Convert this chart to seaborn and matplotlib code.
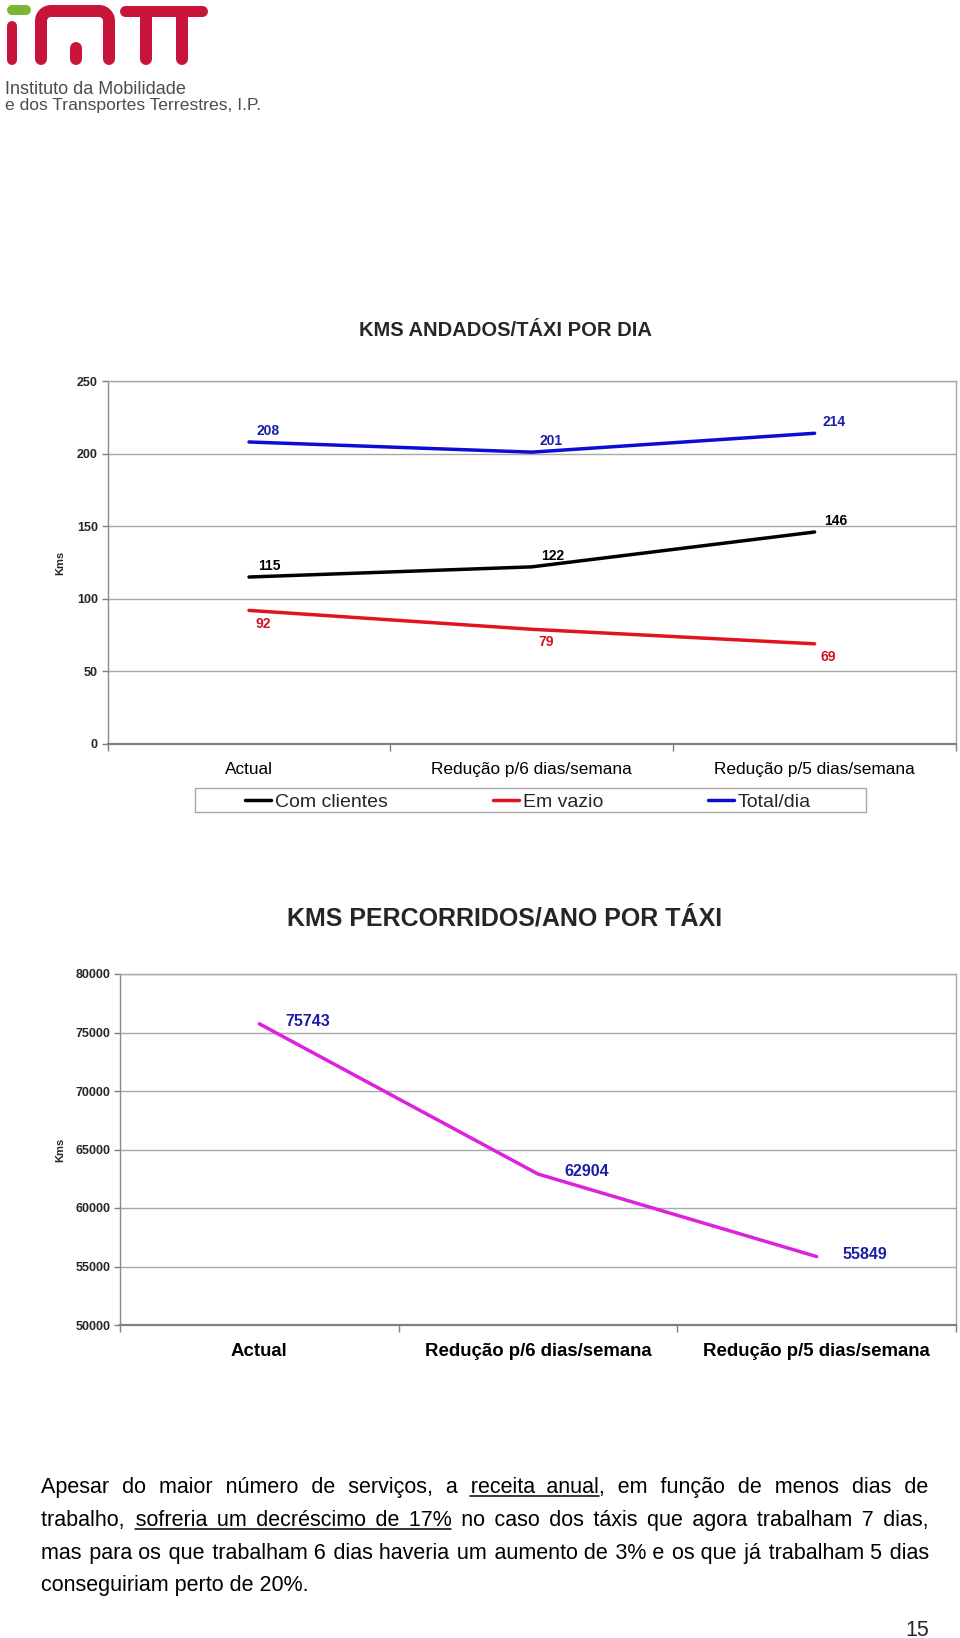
import numpy as np
import pandas as pd
import matplotlib
matplotlib.use("Agg")
import matplotlib.pyplot as plt
import seaborn as sns
from matplotlib.patches import Rectangle

# ---------------- data ----------------
categories = ["Actual", "Redução p/6 dias/semana", "Redução p/5 dias/semana"]
series_names = ["Com clientes", "Em vazio", "Total/dia"]
com_clientes = [115, 122, 146]
em_vazio = [92, 79, 69]
total_dia = [208, 201, 214]
kms_ano = [75743, 62904, 55849]
y1_ticks = [0, 50, 100, 150, 200, 250]
y2_ticks = [50000, 55000, 60000, 65000, 70000, 75000, 80000]
title1 = "KMS ANDADOS/TÁXI POR DIA"
title2 = "KMS PERCORRIDOS/ANO POR TÁXI"
ylabel = "Kms"
paragraph_lines = [
    "Apesar do maior número de serviços, a receita anual, em função de menos dias de",
    "trabalho, sofreria um decréscimo de 17% no caso dos táxis que agora trabalham 7 dias,",
    "mas para os que trabalham 6 dias haveria um aumento de 3% e os que já trabalham 5 dias",
    "conseguiriam perto de 20%.",
]
# (line, first word, last word, trailing chars not underlined)
underlines = [(0, 7, 8, ","), (1, 1, 5, "")]
page_number = "15"
logo_line1 = "Instituto da Mobilidade"
logo_line2 = "e dos Transportes Terrestres, I.P."

palette1 = {"Com clientes": "#000000", "Em vazio": "#e0141e", "Total/dia": "#0c0cd2"}
label_colors = {"Com clientes": "#000000", "Em vazio": "#d0141e", "Total/dia": "#1c1ca8"}

sns.set_style("white")
plt.rcParams["font.family"] = ["Liberation Sans", "DejaVu Sans"]

W, H = 960, 1638
fig = plt.figure(figsize=(W / 100, H / 100), dpi=100)
fig.patch.set_facecolor("white")

# overlay axes in pixel coordinates (y downward)
bg = fig.add_axes([0, 0, 1, 1], zorder=0)
bg.set_xlim(0, W)
bg.set_ylim(H, 0)
bg.axis("off")

# ---------------- logo ----------------
red = "#c8133a"
green = "#7cb531"
px = 0.72  # points per pixel
bg.plot([12, 26], [10, 10], color=green, lw=10 * px, solid_capstyle="round")
bg.plot([12, 12], [26, 60], color=red, lw=10 * px, solid_capstyle="round")
t1 = np.linspace(np.pi, np.pi / 2, 20)
t2 = np.linspace(np.pi / 2, 0, 20)
arch_x = np.concatenate([[41], 51 + 10 * np.cos(t1), 99 + 10 * np.cos(t2), [109]])
arch_y = np.concatenate([[59], 21 - 10 * np.sin(t1), 21 - 10 * np.sin(t2), [59]])
bg.plot(arch_x, arch_y, color=red, lw=12 * px, solid_capstyle="round", solid_joinstyle="round")
bg.plot([76, 76], [48, 59], color=red, lw=12 * px, solid_capstyle="round")
bg.plot([125, 202], [10.5, 10.5], color=red, lw=11 * px, solid_capstyle="round")
bg.plot([146, 146], [14, 59], color=red, lw=12 * px, solid_capstyle="round")
bg.plot([182, 182], [14, 59], color=red, lw=12 * px, solid_capstyle="round")
bg.text(5, 94, logo_line1, fontsize=13, color="#4d4d4d", va="baseline", ha="left")
bg.text(5, 110, logo_line2, fontsize=12.6, color="#4d4d4d", va="baseline", ha="left")

# ---------------- chart 1 ----------------
ax1 = fig.add_axes([107.6 / W, 1 - 744 / H, (956 - 107.6) / W, (744 - 381) / H], zorder=1)
df1 = pd.DataFrame({
    "categoria": categories * 3,
    "valor": com_clientes + em_vazio + total_dia,
    "serie": [s for s in series_names for _ in categories],
})
sns.lineplot(data=df1, x="categoria", y="valor", hue="serie", palette=palette1,
             linewidth=2.5, sort=False, ax=ax1)
handles, labels = ax1.get_legend_handles_labels()
ax1.get_legend().remove()

offsets = {"Com clientes": (15, 8), "Em vazio": (10, -9.5), "Total/dia": (14, 8)}
for s, vals in zip(series_names, [com_clientes, em_vazio, total_dia]):
    for c, v in zip(categories, vals):
        ax1.annotate(str(v), xy=(c, v), xytext=offsets[s], textcoords="offset points",
                     ha="center", va="center", fontsize=10, fontweight="bold",
                     color=label_colors[s])

ax1.set_ylim(0, 250)
ax1.set_yticks(y1_ticks)
ax1.set_xlim(-0.5, 2.5)
ax1.set_xticks(range(len(categories)))
ax1.set_xticklabels(categories, fontsize=12.4)
ax1.set_xticks([-0.5, 0.5, 1.5, 2.5], minor=True)
ax1.set_xlabel("")
ax1.set_ylabel(ylabel, fontsize=8, fontweight="bold")
ax1.yaxis.set_label_coords(-0.05, 0.5)

# ---------------- chart 2 ----------------
ax2 = fig.add_axes([120 / W, 1 - 1325 / H, (956 - 120) / W, (1325 - 974) / H], zorder=1)
df2 = pd.DataFrame({"categoria": categories, "kms": kms_ano})
sns.lineplot(data=df2, x="categoria", y="kms", color="#dc22dc", linewidth=2.5,
             sort=False, ax=ax2)
for c, v in zip(categories, kms_ano):
    ax2.annotate(str(v), xy=(c, v), xytext=(35, 1.5), textcoords="offset points",
                 ha="center", va="center", fontsize=11.5, fontweight="bold",
                 color="#1c1ca8")
ax2.set_ylim(50000, 80000)
ax2.set_yticks(y2_ticks)
ax2.set_xlim(-0.5, 2.5)
ax2.set_xticks(range(len(categories)))
ax2.set_xticklabels(categories, fontsize=13.4, fontweight="bold")
ax2.set_xticks([-0.5, 0.5, 1.5, 2.5], minor=True)
ax2.set_xlabel("")
ax2.set_ylabel(ylabel, fontsize=8, fontweight="bold")
ax2.yaxis.set_label_coords(-0.066, 0.5)

for ax, xpad in ((ax1, 13), (ax2, 13)):
    ax.set_facecolor("white")
    ax.set_axisbelow(True)
    ax.yaxis.grid(True, color="#a8a8a8", lw=1.0)
    ax.xaxis.grid(False)
    for sp in ("top", "right"):
        ax.spines[sp].set_visible(True)
        ax.spines[sp].set_color("#a8a8a8")
        ax.spines[sp].set_linewidth(1.0)
    ax.spines["left"].set_color("#8a8a8a")
    ax.spines["left"].set_linewidth(1.0)
    ax.spines["bottom"].set_color("#808080")
    ax.spines["bottom"].set_linewidth(1.6)
    ax.tick_params(axis="x", which="major", length=0, pad=xpad, colors="black")
    ax.tick_params(axis="x", which="minor", length=5, width=1, color="#808080",
                   direction="out", bottom=True)
    ax.tick_params(axis="y", which="major", length=4, width=1, color="#808080",
                   direction="out", left=True, pad=3, labelsize=9)
    for lab in ax.get_yticklabels():
        lab.set_fontweight("bold")

# ---------------- legend ----------------
fig.legend(handles, labels, loc="center", bbox_to_anchor=(528 / W, 1 - 802 / H),
           ncol=3, frameon=False, handlelength=1.33, handletextpad=0.2,
           columnspacing=5.4, fontsize=14, borderaxespad=0)
bg.add_patch(Rectangle((195, 788), 866 - 195, 24, fill=False, edgecolor="#a8a8a8", lw=1.0))

# ---------------- titles ----------------
bg.text(505, 330, title1, fontsize=14.5, fontweight="bold", ha="center", va="center")
bg.text(505, 919, title2, fontsize=18, fontweight="bold", ha="center", va="center")

# ---------------- paragraph (justified with hair spaces) ----------------
renderer = fig.canvas.get_renderer()
par_fs = 15.5
x_left, x_right = 40.7, 928.7
baselines = [1493, 1526, 1558.5, 1591]
HAIR = "\u200a"


def text_width(s):
    t = bg.text(0, 0, s, fontsize=par_fs)
    w = t.get_window_extent(renderer).width
    t.remove()
    return w


hair_w = (text_width("a" + HAIR * 20 + "a") - text_width("aa")) / 20.0

for li, (line, yb) in enumerate(zip(paragraph_lines, baselines)):
    words = line.split(" ")
    n_gaps = len(words) - 1
    last = li == len(paragraph_lines) - 1
    gaps = [" "] * n_gaps
    if not last and hair_w > 0.3:
        extra = (x_right - x_left) - text_width(line)
        k_total = max(0, int(round(extra / hair_w)))
        base, rem = divmod(k_total, n_gaps)
        # spread the remainder over evenly spaced gaps
        extra_idx = set(np.linspace(0, n_gaps - 1, rem).round().astype(int)) if rem else set()
        gaps = [" " + HAIR * (base + (1 if i in extra_idx else 0)) for i in range(n_gaps)]
    s = words[0]
    ends = [len(s)]
    for g, w in zip(gaps, words[1:]):
        s += g + w
        ends.append(len(s))
    bg.text(x_left, yb, s, fontsize=par_fs, ha="left", va="baseline", color="black")
    for (ul, a, b, trim) in underlines:
        if ul == li:
            x0 = x_left + text_width(s[:ends[a]]) - text_width(words[a])
            x1 = x_left + text_width(s[:ends[b] - len(trim)])
            bg.plot([x0, x1], [yb + 3, yb + 3], color="black", lw=1.1)

bg.text(929, 1630, page_number, fontsize=15.5, ha="right", va="center")

fig.savefig("out.png", dpi=100, facecolor="white")
